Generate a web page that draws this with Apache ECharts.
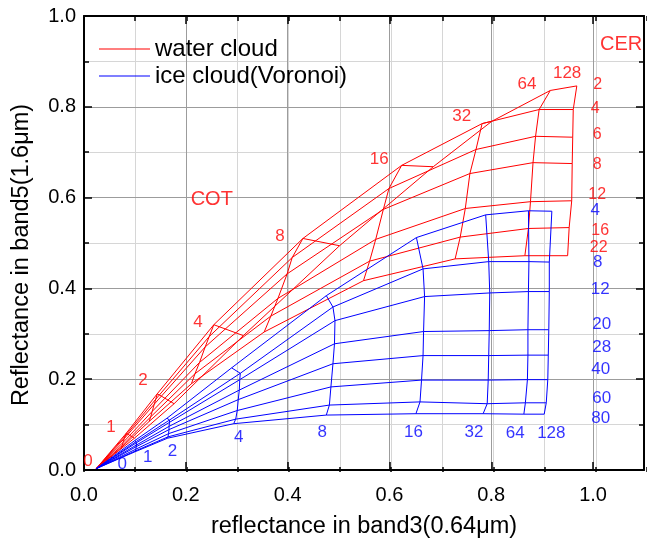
<!DOCTYPE html>
<html><head><meta charset="utf-8">
<script src="https://cdn.jsdelivr.net/npm/echarts@6/dist/echarts.min.js"></script>
<style>html,body{margin:0;padding:0;background:#fff}#c{width:647px;height:544px}</style>
</head><body><div id="c"></div>
<script>
// ---------- data ----------
const waterCER = [2, 4, 6, 8, 12, 16, 22];
const waterCOT = [0, 1, 2, 4, 8, 16, 32, 64, 128];
// rows: COT, cols: CER  (reflectance band3 0.64um)
const waterR064 = [
  [0.024, 0.024, 0.024, 0.024, 0.024, 0.024, 0.024],
  [0.099, 0.083, 0.081, 0.079, 0.077, 0.075, 0.073],
  [0.177, 0.144, 0.141, 0.138, 0.134, 0.131, 0.128],
  [0.313, 0.255, 0.246, 0.238, 0.227, 0.218, 0.211],
  [0.502, 0.430, 0.409, 0.399, 0.381, 0.367, 0.354],
  [0.686, 0.624, 0.599, 0.588, 0.573, 0.561, 0.549],
  [0.801, 0.782, 0.770, 0.758, 0.749, 0.739, 0.729],
  [0.916, 0.894, 0.887, 0.882, 0.877, 0.873, 0.866],
  [0.968, 0.961, 0.960, 0.959, 0.958, 0.953, 0.950]
];
// rows: COT, cols: CER  (reflectance band5 1.6um)
const waterR16 = [
  [0.003, 0.003, 0.003, 0.003, 0.003, 0.003, 0.003],
  [0.070, 0.081, 0.075, 0.069, 0.061, 0.054, 0.049],
  [0.146, 0.168, 0.156, 0.145, 0.129, 0.117, 0.107],
  [0.296, 0.320, 0.294, 0.271, 0.237, 0.212, 0.190],
  [0.494, 0.510, 0.468, 0.432, 0.378, 0.339, 0.304],
  [0.668, 0.671, 0.620, 0.574, 0.508, 0.460, 0.417],
  [0.768, 0.763, 0.706, 0.653, 0.576, 0.513, 0.465],
  [0.836, 0.794, 0.735, 0.677, 0.591, 0.532, 0.472],
  [0.846, 0.794, 0.733, 0.675, 0.593, 0.534, 0.472]
];

const iceCER = [4, 8, 12, 20, 28, 40, 60, 80];
const iceCOT = [0, 1, 2, 4, 8, 16, 32, 64, 128];
const iceR064 = [
  [0.024, 0.024, 0.024, 0.024, 0.024, 0.024, 0.024, 0.024],
  [0.100, 0.103, 0.103, 0.103, 0.102, 0.102, 0.101, 0.100],
  [0.163, 0.168, 0.168, 0.167, 0.167, 0.166, 0.165, 0.164],
  [0.290, 0.307, 0.306, 0.305, 0.303, 0.301, 0.298, 0.294],
  [0.476, 0.489, 0.493, 0.492, 0.489, 0.485, 0.482, 0.476],
  [0.653, 0.666, 0.669, 0.667, 0.666, 0.663, 0.660, 0.652],
  [0.789, 0.795, 0.797, 0.796, 0.795, 0.794, 0.792, 0.784],
  [0.873, 0.874, 0.873, 0.872, 0.872, 0.871, 0.867, 0.864],
  [0.919, 0.914, 0.914, 0.913, 0.912, 0.911, 0.908, 0.904]
];
const iceR16 = [
  [0.003, 0.003, 0.003, 0.003, 0.003, 0.003, 0.003, 0.003],
  [0.065, 0.063, 0.060, 0.055, 0.051, 0.046, 0.042, 0.040],
  [0.114, 0.110, 0.105, 0.096, 0.089, 0.080, 0.073, 0.070],
  [0.225, 0.213, 0.199, 0.176, 0.155, 0.131, 0.112, 0.102],
  [0.384, 0.359, 0.329, 0.278, 0.234, 0.183, 0.143, 0.121],
  [0.512, 0.443, 0.382, 0.305, 0.252, 0.198, 0.150, 0.124],
  [0.562, 0.459, 0.390, 0.307, 0.252, 0.198, 0.146, 0.124],
  [0.571, 0.459, 0.393, 0.309, 0.253, 0.199, 0.148, 0.123],
  [0.570, 0.458, 0.393, 0.309, 0.253, 0.199, 0.148, 0.123]
];

// annotation anchors (data coordinates)
const waterCotLabelX = [0.008, 0.053, 0.116, 0.224, 0.385, 0.580, 0.742, 0.870, 0.949];
const waterCotLabelY = [0.020, 0.093, 0.197, 0.326, 0.515, 0.684, 0.779, 0.850, 0.874];
const waterCerLabelX = [1.009, 1.004, 1.008, 1.008, 1.008, 1.014, 1.011];
const waterCerLabelY = [0.848, 0.795, 0.739, 0.673, 0.606, 0.527, 0.489];
const iceCotLabelX = [0.075, 0.125, 0.174, 0.304, 0.468, 0.647, 0.766, 0.847, 0.918];
const iceCotLabelY = [0.012, 0.028, 0.041, 0.071, 0.083, 0.083, 0.083, 0.081, 0.081];
const iceCerLabelX = [1.004, 1.009, 1.014, 1.017, 1.017, 1.015, 1.017, 1.015];
const iceCerLabelY = [0.571, 0.458, 0.399, 0.321, 0.271, 0.221, 0.158, 0.114];
const headingText = ['COT', 'CER'];
const headingX = [0.251, 1.055];
const headingY = [0.596, 0.938];

const xTitle = 'reflectance in band3(0.64μm)';
const yTitle = 'Reflectance in band5(1.6μm)';
const waterName = 'water cloud';
const iceName = 'ice cloud(Voronoi)';

// ---------- chart ----------
const F = '"Liberation Sans", Arial, sans-serif';
const RED = '#ff0000', BLUE = '#0000ff';
const chart = echarts.init(document.getElementById('c'), null, {renderer: 'canvas'});

const series = [];
function gridLines(R064, R16, COT, CER, name, color) {
  // constant-CER curves (over COT)
  CER.forEach((c, j) => {
    series.push({type: 'line', name, xAxisIndex: 0, yAxisIndex: 0, symbol: 'none',
      lineStyle: {color, width: 1}, itemStyle: {color}, silent: true, animation: false,
      data: COT.map((t, i) => [R064[i][j], R16[i][j]])});
  });
  // constant-COT curves (over CER)
  COT.forEach((t, i) => {
    if (i === 0) return;
    series.push({type: 'line', name, xAxisIndex: 0, yAxisIndex: 0, symbol: 'none',
      lineStyle: {color, width: 1}, itemStyle: {color}, silent: true, animation: false,
      data: CER.map((c, j) => [R064[i][j], R16[i][j]])});
  });
}
gridLines(waterR064, waterR16, waterCOT, waterCER, waterName, RED);
gridLines(iceR064, iceR16, iceCOT, iceCER, iceName, BLUE);

function labels(id, texts, xs, ys, color, size) {
  series.push({type: 'scatter', name: id, xAxisIndex: 0, yAxisIndex: 0, symbolSize: 1,
    itemStyle: {color: 'rgba(0,0,0,0)'}, silent: true, animation: false, z: 5,
    label: {show: true, position: 'inside', color, fontSize: size, fontFamily: F,
      formatter: p => p.name},
    data: texts.map((t, k) => ({name: String(t), value: [xs[k], ys[k]]}))});
}
labels('l1', waterCOT, waterCotLabelX, waterCotLabelY, RED, 17);
labels('l2', waterCER, waterCerLabelX, waterCerLabelY, RED, 16);
labels('l3', iceCOT, iceCotLabelX, iceCotLabelY, BLUE, 17);
labels('l4', iceCER, iceCerLabelX, iceCerLabelY, BLUE, 17);
labels('l5', headingText, headingX, headingY, RED, 20);

const gridRect = {left: 84, top: 16, width: 565, height: 456};
const blackLine = {color: '#000', width: 2};
const tickStyle = {color: '#000', width: 1.5};

const option = {
  backgroundColor: '#fff',
  animation: false,
  grid: [Object.assign({}, gridRect), Object.assign({}, gridRect)],
  legend: {
    data: [{name: waterName, icon: 'rect'}, {name: iceName, icon: 'rect'}],
    orient: 'vertical', left: 94, top: 31,
    itemWidth: 51, itemHeight: 1.2, itemGap: 1,
    textStyle: {fontSize: 24, fontFamily: F, color: '#000', lineHeight: 26},
    selectedMode: false
  },
  xAxis: [
    {gridIndex: 0, type: 'value', position: 'bottom', min: 0, max: 1.1, interval: 0.2, z: 2,
      axisLine: {show: true, onZero: false, lineStyle: blackLine},
      axisTick: {show: true, inside: true, length: 8, lineStyle: tickStyle},
      axisLabel: {fontSize: 20, color: '#000', fontFamily: F, margin: 15,
        formatter: v => (v > 1.05 ? '' : v.toFixed(1))},
      splitLine: {show: true, lineStyle: {color: '#9c9c9c', width: 1}},
      name: xTitle, nameLocation: 'middle', nameGap: 45,
      nameTextStyle: {fontSize: 23.5, fontFamily: F, color: '#000'}},
    {gridIndex: 0, type: 'value', position: 'top', min: 0, max: 1.1, interval: 0.2, z: 2,
      axisLine: {show: true, onZero: false, lineStyle: blackLine},
      axisTick: {show: true, inside: true, length: 8, lineStyle: tickStyle},
      axisLabel: {show: false}, splitLine: {show: false}},
    {gridIndex: 1, type: 'value', position: 'bottom', min: 0, max: 1.1, interval: 0.1, z: 1,
      axisLine: {show: false, onZero: false},
      axisTick: {show: true, inside: true, length: 5, lineStyle: tickStyle},
      axisLabel: {show: false},
      splitLine: {show: true, lineStyle: {color: '#d6d6d6', width: 1}}},
    {gridIndex: 1, type: 'value', position: 'top', min: 0, max: 1.1, interval: 0.1, z: 1,
      axisLine: {show: false, onZero: false},
      axisTick: {show: true, inside: true, length: 5, lineStyle: tickStyle},
      axisLabel: {show: false}, splitLine: {show: false}}
  ],
  yAxis: [
    {gridIndex: 0, type: 'value', position: 'left', min: 0, max: 1, interval: 0.2, z: 2,
      axisLine: {show: true, onZero: false, lineStyle: blackLine},
      axisTick: {show: true, inside: true, length: 8, lineStyle: tickStyle},
      minorTick: {show: true, splitNumber: 2, length: 5, lineStyle: tickStyle},
      minorSplitLine: {show: true, lineStyle: {color: '#d6d6d6', width: 1}},
      axisLabel: {fontSize: 20, color: '#000', fontFamily: F, margin: 8,
        formatter: v => v.toFixed(1)},
      splitLine: {show: true, lineStyle: {color: '#9c9c9c', width: 1}},
      name: yTitle, nameLocation: 'middle', nameGap: 50, nameRotate: 90,
      nameTextStyle: {fontSize: 23.5, fontFamily: F, color: '#000', padding: [0, 24, 0, 0]}},
    {gridIndex: 0, type: 'value', position: 'right', min: 0, max: 1, interval: 0.2, z: 2,
      axisLine: {show: true, onZero: false, lineStyle: blackLine},
      axisTick: {show: true, inside: true, length: 8, lineStyle: tickStyle},
      minorTick: {show: true, splitNumber: 2, length: 5, lineStyle: tickStyle},
      axisLabel: {show: false}, splitLine: {show: false}},
    {gridIndex: 1, type: 'value', min: 0, max: 1, show: false}
  ],
  series
};
chart.setOption(option);
</script></body></html>
